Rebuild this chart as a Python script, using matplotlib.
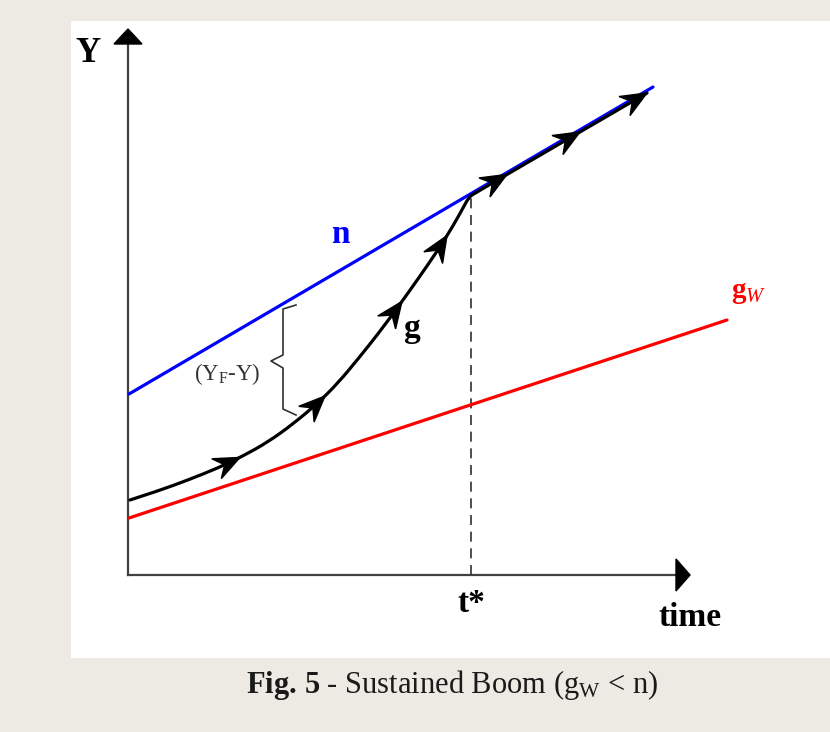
import matplotlib
matplotlib.use("Agg")
import matplotlib.pyplot as plt
from matplotlib.patches import Polygon, Rectangle, PathPatch
from matplotlib.path import Path
import numpy as np

# Diagram values (time t and output Y, in drawing units)
n_t = [1, 525]
n_Y = [181, 488]

gw_t = [1, 599]
gw_Y = [57, 255]

g_t = [2, 30, 60, 90, 115, 140, 165, 190, 210, 230, 250, 270, 290, 310, 325, 335, 341, 347, 519]
g_Y = [75, 84, 95, 107, 119, 133, 151, 172, 192, 216, 241, 268, 296, 325, 349, 367, 378, 382, 482]

arrow_t = [112, 197, 274, 319, 379, 452, 519]

t_star = 343
axis_t_max = 549
axis_Y_max = 531

plt.rcParams["font.family"] = ["Liberation Serif", "DejaVu Serif"]
plt.rcParams["mathtext.fontset"] = "custom"
plt.rcParams["mathtext.rm"] = "Liberation Serif"
plt.rcParams["mathtext.it"] = "Liberation Serif:italic"
plt.rcParams["mathtext.bf"] = "Liberation Serif:bold"

fig = plt.figure(figsize=(8.3, 7.32), dpi=100, facecolor="#ECEAE3")
ax = fig.add_axes([0, 0, 1, 1])
ax.set_xlim(-128, 702)
ax.set_ylim(-157, 575)
ax.axis("off")

# white panel behind the diagram
ax.add_patch(Rectangle((-57, -83), 780, 637, facecolor="white", edgecolor="none", zorder=0))

axis_col = "#404040"
# axes with arrowheads
ax.plot([0, 0], [0, axis_Y_max], color=axis_col, lw=1.6, zorder=2)
ax.plot([0, axis_t_max], [0, 0], color=axis_col, lw=1.6, zorder=2)
ax.add_patch(Polygon([[0, axis_Y_max + 15], [-14, axis_Y_max], [14, axis_Y_max]],
                     closed=True, color="black", zorder=3))
ax.add_patch(Polygon([[axis_t_max + 13, 0], [axis_t_max - 1, 16], [axis_t_max - 1, -16]],
                     closed=True, color="black", zorder=3))

# growth paths
ax.plot(n_t, n_Y, color="#0000FF", lw=2.3, solid_capstyle="round", zorder=3)
ax.plot(gw_t, gw_Y, color="#FF0000", lw=2.3, solid_capstyle="round", zorder=3)

# actual path g, drawn as a smooth quadratic spline through its points
pts = np.column_stack([g_t, g_Y]).astype(float)
verts = [pts[0]]
codes = [Path.MOVETO]
for i in range(1, len(pts) - 1):
    verts += [pts[i], (pts[i] + pts[i + 1]) / 2]
    codes += [Path.CURVE3, Path.CURVE3]
verts.append(pts[-1])
codes.append(Path.LINETO)
ax.add_patch(PathPatch(Path(verts, codes), facecolor="none", edgecolor="black",
                       lw=2.3, capstyle="round", joinstyle="round", zorder=4))

# t* marker
t_star_Y = np.interp(t_star, g_t, g_Y)
ax.plot([t_star, t_star], [0, t_star_Y - 2], color="#303030", lw=1.2, ls=(0, (6, 4)), zorder=2)

# direction arrows along g
for ta in arrow_t:
    y_tip = np.interp(ta, g_t, g_Y)
    y_back = np.interp(ta - 8, g_t, g_Y)
    d = np.array([8.0, y_tip - y_back])
    d /= np.hypot(*d)
    nv = np.array([-d[1], d[0]])
    tip = np.array([ta, y_tip])
    L, W, notch = 26, 11, 17
    head = [tip, tip - L * d + W * nv, tip - notch * d, tip - L * d - W * nv]
    ax.add_patch(Polygon(head, closed=True, color="black", zorder=5))

# brace marking the gap between n and g
brace_t = [168, 155, 155, 143, 155, 155, 168]
brace_Y = [270, 266, 220, 214, 207, 166, 160]
ax.plot(brace_t, brace_Y, color="#303030", lw=1.2, zorder=3)

# labels
ax.text(-40, 513, "Y", fontsize=25, fontweight="bold", ha="center", va="baseline")
ax.text(562, -51, "time", fontsize=24, fontweight="bold", ha="center", va="baseline")
ax.text(t_star, -37, "t*", fontsize=24, fontweight="bold", ha="center", va="baseline")
ax.text(212, 332, "n", fontsize=24, fontweight="bold", color="#0000FF", ha="center", va="baseline")
ax.text(283, 238, "g", fontsize=24, fontweight="bold", color="black", ha="center", va="baseline")
ax.text(603, 277, r"$\mathbf{g}_{\mathit{W}}$", fontsize=21, color="#FF0000", ha="left", va="baseline")
ax.text(66, 195, r"(Y$_{\mathrm{F}}$-Y)", fontsize=16.5, color="#333333", ha="left", va="baseline")

ax.text(324, -118, r"$\mathbf{Fig.\,5}$ - Sustained Boom (g$_{\mathrm{W}}$ < n)",
        fontsize=22, color="#1A1A1A", ha="center", va="baseline")

fig.savefig("out.png", dpi=100, facecolor=fig.get_facecolor())
